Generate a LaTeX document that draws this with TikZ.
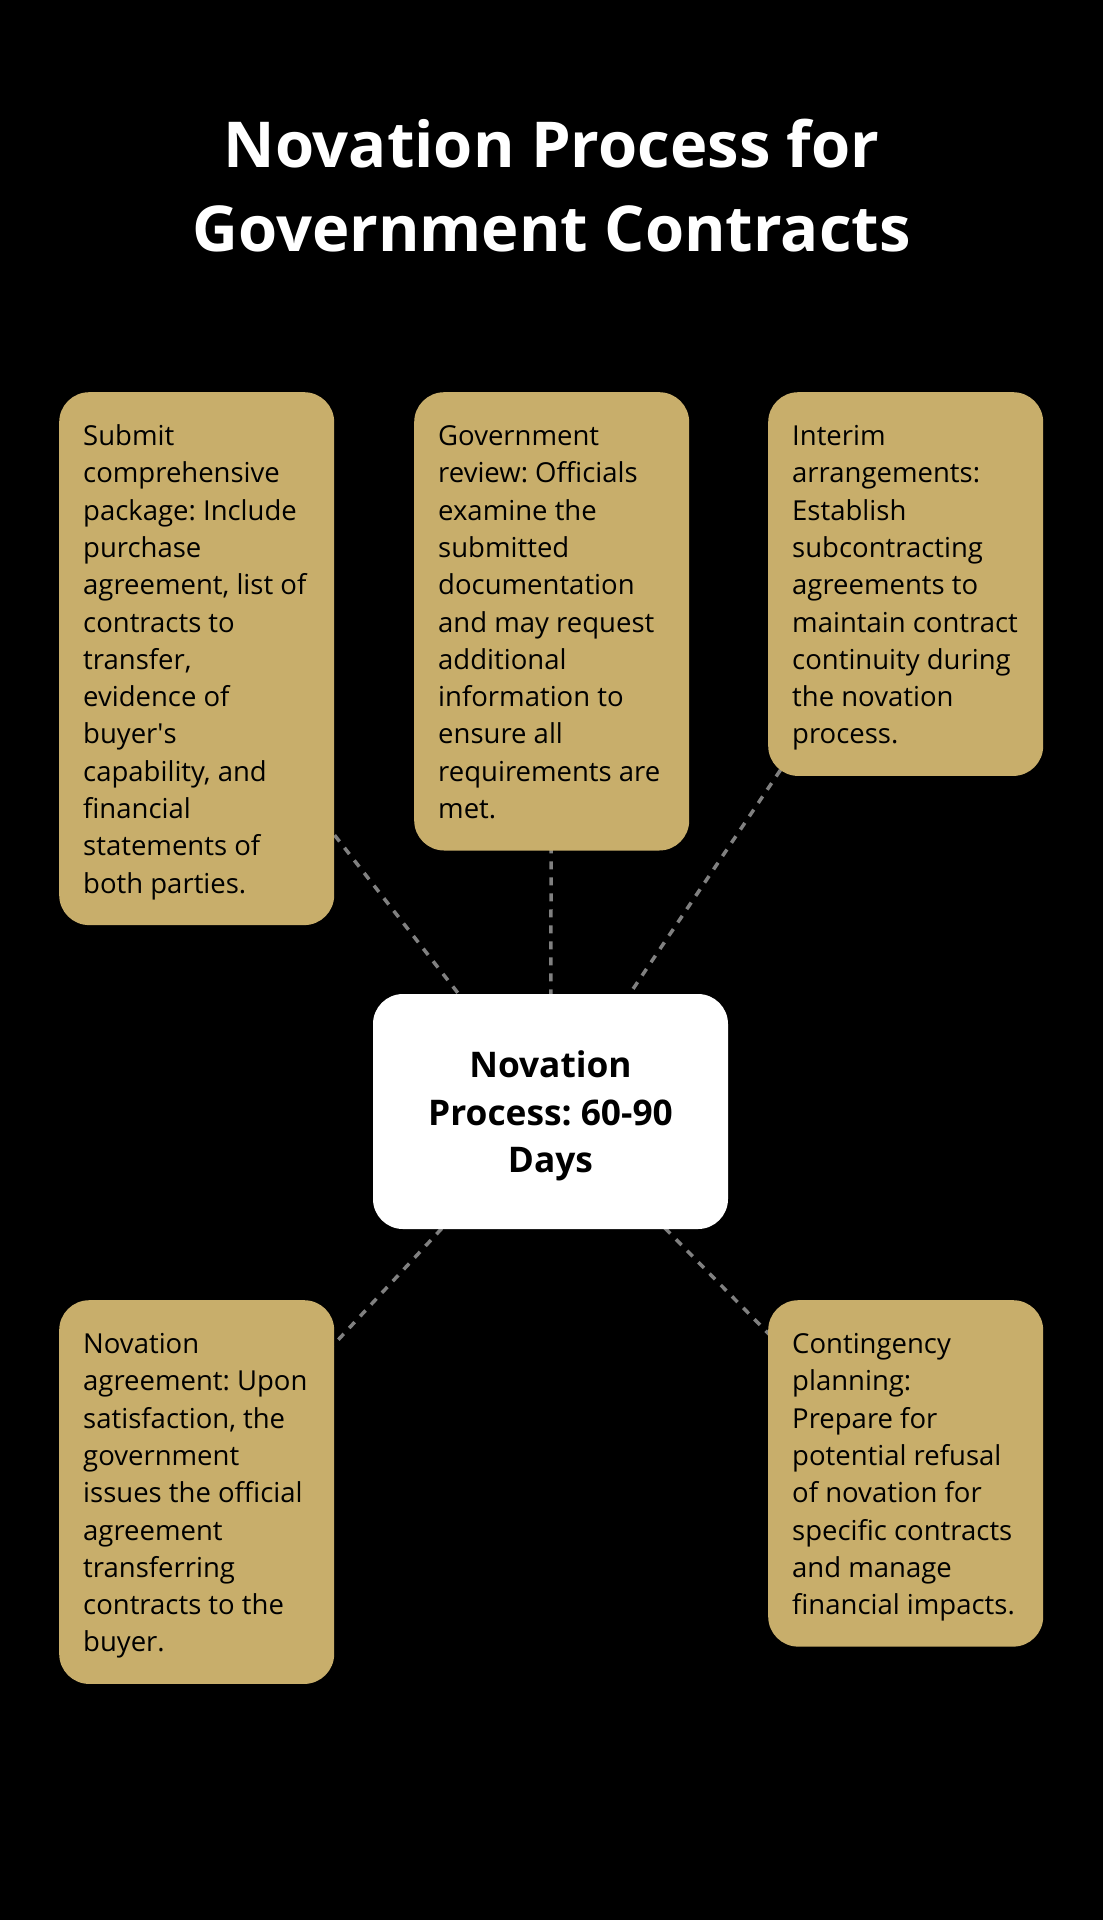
\documentclass[tikz,border=0pt]{standalone}
\usepackage{fontspec}
\setmainfont{Open Sans}
\usetikzlibrary{backgrounds}
\definecolor{gold}{HTML}{C8AE6B}
\definecolor{conn}{HTML}{808080}
\newcommand\topS{\rule{0pt}{29.3pt}}
\newcommand\botS{\rule[-8pt]{0pt}{8pt}}
\newcommand\htopS{\rule{0pt}{37.8pt}}
\newcommand\hbotS{\rule[-10.3pt]{0pt}{10.3pt}}
\newcommand\nowrap{\frenchspacing\rightskip=-25pt plus 1fil\relax}
\frenchspacing
\begin{document}
\begin{tikzpicture}[x=1pt,y=-1pt,
  card/.style={fill=gold, rounded corners=30pt, anchor=north west, text width=227pt,
    inner xsep=24pt, inner ysep=24pt, align=flush left, text=black,
    font=\fontsize{27.5}{37.3}\selectfont},
  hub/.style={fill=white, rounded corners=30pt, minimum width=355pt, minimum height=235pt,
    inner sep=0pt, align=center, text=black, font=\bfseries\fontsize{35.3}{47.7}\selectfont},
  link/.style={draw=conn, line width=3.5pt, dash pattern=on 8pt off 8pt},
  heading/.style={anchor=north, inner sep=0pt, align=center, text=white,
    font=\bfseries\fontsize{63.3}{84.4}\selectfont}]
\useasboundingbox (0,0) rectangle (1103,1920);

\node[heading] (title) at (551.5,112.3) {\rule{0pt}{55pt}Novation Process for\\Government Contracts};

\node[card] (b1) at (59,392) {\nowrap\topS Submit\\ comprehensive\\ package: Include\\ purchase\\ agreement, list of\\ contracts to\\ transfer,\\ evidence of\\ buyer\textquotesingle s\\ capability, and\\ financial\\ statements of\\ both parties.\botS};
\node[card] (b2) at (414,392) {\nowrap\topS Government\\ review: Officials\\ examine the\\ submitted\\ documentation\\ and may request\\ additional\\ information to\\ ensure all\\ requirements are\\ met.\botS};
\node[card] (b3) at (768,392) {\nowrap\topS Interim\\ arrangements:\\ Establish\\ subcontracting\\ agreements to\\ maintain contract\\ continuity during\\ the novation\\ process.\botS};
\node[card] (b4) at (59,1300) {\nowrap\topS Novation\\ agreement: Upon\\ satisfaction, the\\ government\\ issues the official\\ agreement\\ transferring\\ contracts to the\\ buyer.\botS};
\node[card] (b5) at (768,1300) {\nowrap\topS Contingency\\ planning:\\ Prepare for\\ potential refusal\\ of novation for\\ specific contracts\\ and manage\\ financial impacts.\botS};

\node[hub] (hub) at (550.5,1111.5) {\htopS Novation\\ Process: 60-90\\ Days\hbotS};

\begin{pgfonlayer}{background}
\fill[black] (0,0) rectangle (1103,1920);
\draw[link] (b1.center) -- (hub.center);
\draw[link] (b2.center) -- (hub.center);
\draw[link] (b3.center) -- (hub.center);
\draw[link] (b4.center) -- (hub.center);
\draw[link] (b5.center) -- (hub.center);
\end{pgfonlayer}
\end{tikzpicture}
\end{document}
